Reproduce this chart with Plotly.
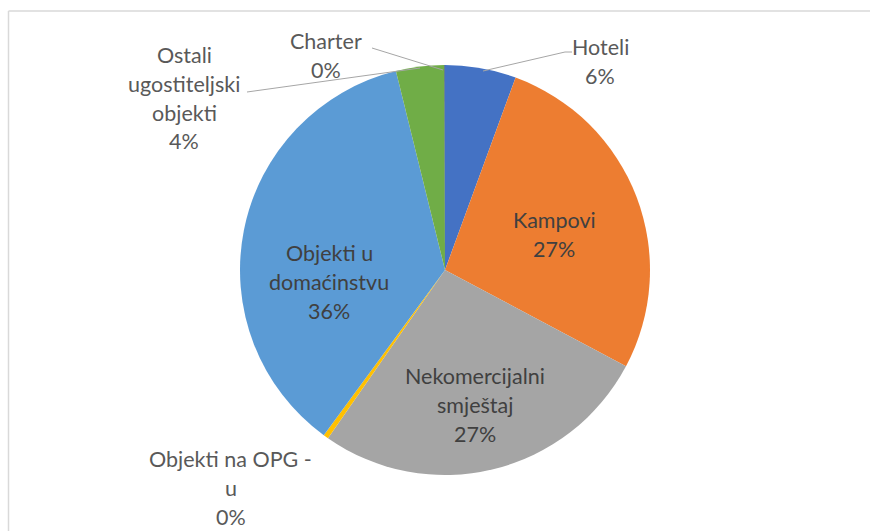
import plotly.graph_objects as go

W, H = 870, 531

categories = ["Hoteli", "Kampovi", "Nekomercijalni smještaj", "Objekti na OPG - u",
              "Objekti u domaćinstvu", "Ostali ugostiteljski objekti", "Charter"]
values = [5.6, 27.2, 26.9, 0.4, 36.1, 3.8, 0.05]
colors = ["#4472C4", "#ED7D31", "#A5A5A5", "#FFC000", "#5B9BD5", "#70AD47", "#264478"]

# label layout (text line breaks, pixel centre x / first line y, font colour)
label_lines = [["Hoteli"], ["Kampovi"], ["Nekomercijalni", "smještaj"], ["Objekti na OPG -", "u"],
               ["Objekti u", "domaćinstvu"], ["Ostali", "ugostiteljski", "objekti"], ["Charter"]]
label_pos = [(600, 47), (554, 220), (475, 376), (231, 459), (329, 253), (184, 55), (326, 41)]
label_col = ["#595959", "#404040", "#404040", "#595959", "#404040", "#595959", "#595959"]
LINE_STEP = 28.8


def px(x):
    return x / W


def py(y):
    return 1 - y / H


total = sum(values)
pcts = [round(v / total * 100) for v in values]

fig = go.Figure(go.Pie(
    labels=categories,
    values=values,
    sort=False,
    direction="clockwise",
    rotation=0,
    marker=dict(colors=colors, line=dict(width=0)),
    textinfo="none",
    hoverinfo="label+percent",
    showlegend=False,
    domain=dict(x=[px(240), px(650)], y=[py(475), py(65)]),
))

annotations = []
for lines, (cx, cy), col, p in zip(label_lines, label_pos, label_col, pcts):
    for i, t in enumerate(lines + [f"{p}%"]):
        annotations.append(dict(
            x=px(cx), y=py(cy + i * LINE_STEP), xref="paper", yref="paper", text=t, showarrow=False,
            xanchor="center", yanchor="middle", align="center",
            font=dict(family="Lato, Open Sans, sans-serif", size=21.5, color=col),
        ))

shapes = []
# leader lines
for pts in [[(483, 71), (565, 52), (572, 52)], [(372, 48), (443, 70)], [(247, 92), (420, 68)]]:
    for (x0, y0), (x1, y1) in zip(pts[:-1], pts[1:]):
        shapes.append(dict(type="line", xref="paper", yref="paper",
                           x0=px(x0), y0=py(y0), x1=px(x1), y1=py(y1),
                           line=dict(color="#A6A6A6", width=1)))
# chart area border (top & left)
shapes.append(dict(type="line", xref="paper", yref="paper", x0=px(8.5), y0=py(11), x1=1.0, y1=py(11),
                   line=dict(color="#D9D9D9", width=1.5)))
shapes.append(dict(type="line", xref="paper", yref="paper", x0=px(8.5), y0=py(11), x1=px(8.5), y1=0.0,
                   line=dict(color="#D9D9D9", width=1.5)))

fig.update_layout(
    width=W, height=H,
    margin=dict(l=0, r=0, t=0, b=0),
    paper_bgcolor="white",
    plot_bgcolor="white",
    annotations=annotations,
    shapes=shapes,
)

fig.write_html("out.html", config={"displayModeBar": False},
               post_script="document.body.style.margin='0';")
